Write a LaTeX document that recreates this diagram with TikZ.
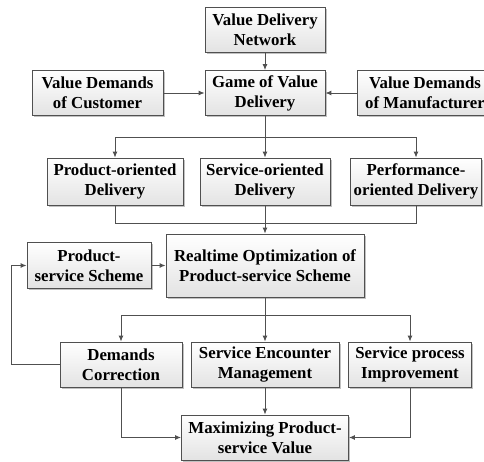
\documentclass[tikz,border=0pt]{standalone}
\usepackage{fontspec}
\setmainfont{Liberation Serif}
\usepackage{xcolor}
\usepackage{tikz}
\usetikzlibrary{shapes,arrows.meta,positioning,shadows}

\definecolor{linegray}{HTML}{505050}
\tikzset{
  block/.style={draw=linegray, rectangle, line width=0.8pt, align=center,
    top color=white, bottom color=gray!22, minimum height=45pt, inner sep=2pt,
    drop shadow={shadow xshift=1.5pt, shadow yshift=-1.5pt, fill=gray!70, opacity=0.7},
    font=\fontsize{16.8}{20}\selectfont\bfseries},
  flow/.style={->, draw=linegray, line width=1pt}
}

\begin{document}
\begin{tikzpicture}[>={Latex[length=6pt,width=5pt]}]
\useasboundingbox (0pt,0pt) rectangle (484pt,-461pt);
\clip (0pt,0pt) rectangle (484pt,-461pt);

\node (vdn) [block, minimum width=120pt] at (265pt,-29.5pt) {Value Delivery\\Network};
\node (game) [block, minimum width=120pt, below of=vdn, node distance=63.5pt] {Game of Value\\Delivery};
\node (cust) [block, minimum width=131pt, left of=game, node distance=167.5pt] {Value Demands\\of Customer};
\node (manu) [block, minimum width=136pt, right of=game, node distance=160pt] {Value Demands\\of Manufacturer};

\node (serv) [block, minimum width=130pt, minimum height=47pt, below of=game, node distance=88.5pt] {Service-oriented\\Delivery};
\node (prod) [block, minimum width=136pt, minimum height=47pt, left of=serv, node distance=150pt] {Product-oriented\\Delivery};
\node (perf) [block, minimum width=131pt, minimum height=47pt, right of=serv, node distance=151pt] {Performance-\\oriented Delivery};

\node (realtime) [block, minimum width=198pt, minimum height=63pt, below of=serv, node distance=84pt] {Realtime Optimization of\\Product-service Scheme};
\node (pss) [block, minimum width=124pt, minimum height=46pt, left of=realtime, node distance=176pt] {Product-\\service Scheme};

\node (sem) [block, minimum width=148pt, below of=realtime, node distance=99pt] {Service Encounter\\Management};
\node (dc) [block, minimum width=122pt, left of=sem, node distance=144pt] {Demands\\Correction};
\node (spi) [block, minimum width=123pt, right of=sem, node distance=145pt] {Service process\\Improvement};

\node (max) [block, minimum width=167pt, below of=sem, node distance=73pt] {Maximizing Product-\\service Value};

% top part
\draw[flow] (vdn) -- (game);
\draw[flow] (cust) -- (game);
\draw[flow] (manu) -- (game);

% split to the delivery modes
\path (game.south) ++(0,-22pt) coordinate (split1);
\draw[flow] (game.south) -- (split1) -| (prod.north);
\draw[flow] (split1) -- (serv.north);
\draw[flow] (split1) -| (perf.north);

% merge into realtime optimization
\path (serv.south) ++(0,-18pt) coordinate (merge1);
\draw[draw=linegray, line width=1pt] (prod.south) |- (merge1) -| (perf.south);
\draw[flow] (serv.south) -- (realtime.north);
\draw[flow] (pss.east) -- (pss.east -| realtime.west);

% split to the measures
\path (realtime.south) ++(0,-18pt) coordinate (split2);
\draw[flow] (realtime.south) -- (split2) -| (dc.north);
\draw[flow] (split2) -- (sem.north);
\draw[flow] (split2) -| (spi.north);

% feedback
\draw[flow] (dc.west) -- ++(-48pt,0) |- (pss.west);

% bottom
\draw[flow] (dc.south) |- (max.west);
\draw[flow] (sem) -- (max);
\draw[flow] (spi.south) |- (max.east);
\end{tikzpicture}
\end{document}
